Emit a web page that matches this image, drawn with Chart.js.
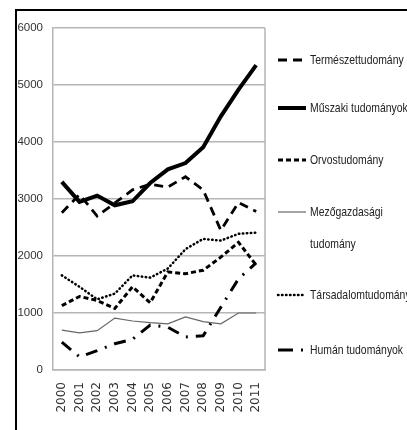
<!DOCTYPE html>
<html>
<head>
<meta charset="utf-8">
<script src="https://cdn.jsdelivr.net/npm/chart.js@4"></script>
<style>
  body { margin: 0; background: #fff; overflow: hidden; }
  #frame { position: absolute; left: 15px; top: 9px; width: 500px; height: 500px; border: 2px solid #000; }
  #chart { position: absolute; left: 0; top: 0; }
</style>
</head>
<body>
<div id="frame"></div>
<canvas id="chart" width="407" height="430"></canvas>
<script>
const years = ['2000', '2001', '2002', '2003', '2004', '2005', '2006', '2007', '2008', '2009', '2010', '2011'];
const yTicks = [0, 1000, 2000, 3000, 4000, 5000, 6000];

const termeszet = [2760, 3080, 2700, 2930, 3160, 3260, 3210, 3390, 3160, 2450, 2940, 2780];
const muszaki   = [3300, 2950, 3060, 2890, 2960, 3280, 3520, 3630, 3910, 4450, 4920, 5350];
const orvos     = [1130, 1290, 1220, 1080, 1460, 1180, 1720, 1690, 1750, 1980, 2240, 1840];
const mezo      = [700, 650, 690, 910, 860, 830, 810, 930, 850, 810, 1000, 1000];
const tarsadalom = [1660, 1460, 1240, 1340, 1660, 1620, 1780, 2120, 2300, 2270, 2390, 2410];
const human     = [490, 230, 340, 460, 540, 790, 750, 580, 600, 1100, 1600, 1880];

const names = ['Természettudomány', 'Műszaki tudományok', 'Orvostudomány',
  'Mezőgazdasági\ntudomány', 'Társadalomtudomány', 'Humán tudományok'];

// legend rows (y of the sample line), as in the picture
const legendY = [60, 108, 160, 212, 295, 350];

const legendPlugin = {
  id: 'sideLegend',
  afterDraw(chart) {
    const ctx = chart.ctx;
    const x0 = chart.chartArea.right + 13;
    chart.data.datasets.forEach((ds, i) => {
      const y = legendY[i];
      ctx.save();
      ctx.strokeStyle = ds.borderColor;
      ctx.lineWidth = ds.borderWidth;
      ctx.setLineDash(ds.legendDash || ds.borderDash || []);
      ctx.lineCap = ds.borderCapStyle || 'butt';
      ctx.beginPath();
      ctx.moveTo(x0, y);
      ctx.lineTo(x0 + 28, y);
      ctx.stroke();
      ctx.restore();
      // condensed look: squeeze the text sideways
      ctx.save();
      ctx.translate(x0 + 32, y);
      ctx.scale(0.8, 1);
      ctx.fillStyle = '#222';
      ctx.font = '13px "Liberation Sans", sans-serif';
      ctx.textBaseline = 'middle';
      ds.label.split('\n').forEach((line, k) => {
        ctx.fillText(line, 0, k * 32);
      });
      ctx.restore();
    });
  }
};

const boxPlugin = {
  id: 'plotBox',
  beforeDatasetsDraw(chart) {
    const a = chart.chartArea;
    const ctx = chart.ctx;
    ctx.save();
    ctx.strokeStyle = '#b5b5b5';
    ctx.lineWidth = 1.5;
    ctx.beginPath();
    ctx.moveTo(a.right, a.top);
    ctx.lineTo(a.right, a.bottom);
    ctx.stroke();
    ctx.restore();
  }
};

new Chart(document.getElementById('chart'), {
  type: 'line',
  data: {
    labels: years,
    datasets: [
      { label: names[0], data: termeszet, borderColor: '#000', borderWidth: 2.8, borderDash: [9, 6] },
      { label: names[1], data: muszaki, borderColor: '#000', borderWidth: 4 },
      { label: names[2], data: orvos, borderColor: '#000', borderWidth: 3, borderDash: [5, 3] },
      { label: names[3], data: mezo, borderColor: '#666', borderWidth: 1.2 },
      { label: names[4], data: tarsadalom, borderColor: '#000', borderWidth: 2.5, borderDash: [0.5, 3.5], borderCapStyle: 'round' },
      { label: names[5], data: human, borderColor: '#000', borderWidth: 3, borderDash: [12, 8, 2, 8], legendDash: [15, 8, 2, 50] }
    ]
  },
  options: {
    responsive: false,
    animation: false,
    devicePixelRatio: 1,
    layout: { padding: { top: 28, right: 142, left: 0, bottom: 0 } },
    elements: { point: { radius: 0 }, line: { tension: 0 } },
    plugins: { legend: { display: false }, tooltip: { enabled: false } },
    scales: {
      x: {
        offset: true,
        grid: { display: false, drawTicks: false },
        border: { color: '#b5b5b5', width: 1.5 },
        afterFit: s => { s.height = 60; },
        ticks: {
          autoSkip: false, minRotation: 90, maxRotation: 90, padding: 12,
          color: '#333', font: { family: '"DejaVu Sans", sans-serif', size: 12 }
        }
      },
      y: {
        min: 0, max: 6000,
        afterBuildTicks: s => { s.ticks = yTicks.map(v => ({ value: v })); },
        afterFit: s => { s.width = 53; },
        grid: { color: '#b5b5b5', lineWidth: 1.5, drawTicks: false },
        border: { color: '#b5b5b5', width: 1.5 },
        ticks: {
          padding: 10, color: '#333',
          font: { family: '"Liberation Sans", sans-serif', size: 11.5 },
          callback: v => String(v)
        }
      }
    }
  },
  plugins: [boxPlugin, legendPlugin]
});
</script>
</body>
</html>
